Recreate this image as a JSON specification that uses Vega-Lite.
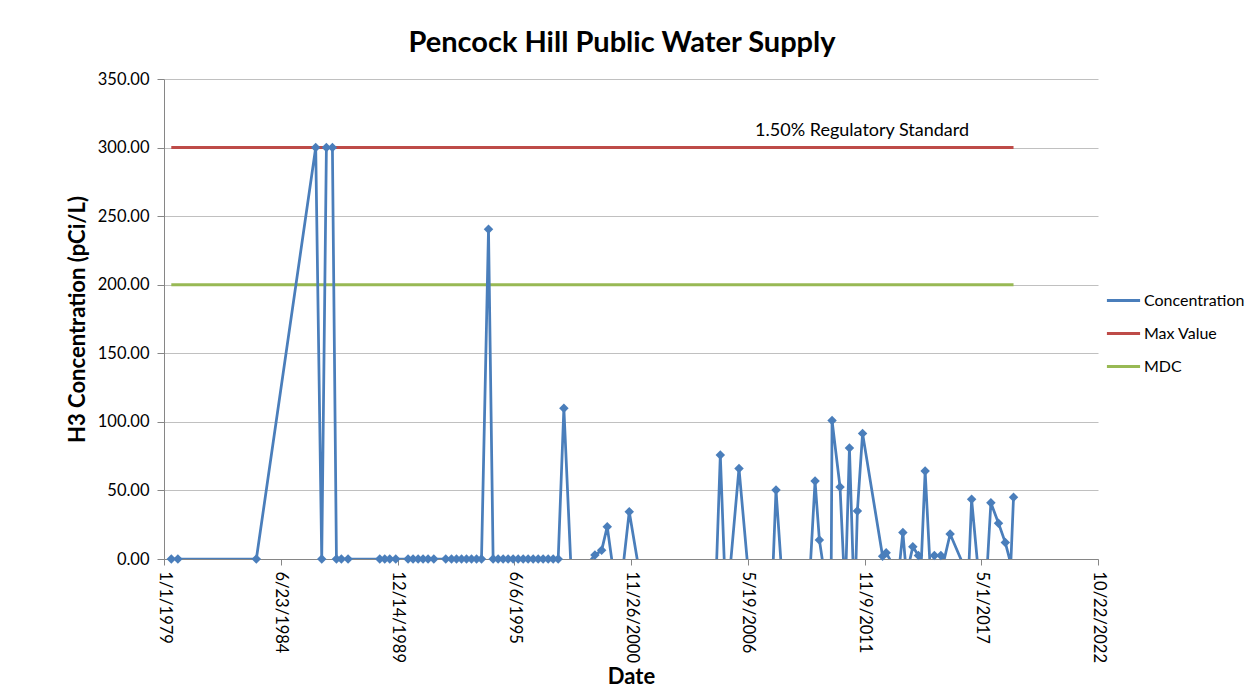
{
  "$schema": "https://vega.github.io/schema/vega-lite/v6.json",
  "width": 934,
  "height": 480,
  "autosize": {"type": "none"},
  "padding": {"left": 164, "top": 79, "right": 161, "bottom": 132},
  "background": "white",
  "config": {"view": {"stroke": null}, "font": "Lato"},
  "title": {"text": "Pencock Hill Public Water Supply", "font": "Lato", "fontSize": 29, "fontWeight": "bold", "color": "#000000", "anchor": "middle", "offset": 13, "dx": -9},
  "datasets": {
    "conc": [
      {"date": "1979-05-06", "value": 0},
      {"date": "1979-08-27", "value": 0},
      {"date": "1983-05-02", "value": 0},
      {"date": "1986-02-12", "value": 300},
      {"date": "1986-05-26", "value": 0},
      {"date": "1986-08-14", "value": 300},
      {"date": "1986-11-25", "value": 300},
      {"date": "1987-02-02", "value": 0},
      {"date": "1987-04-28", "value": 0},
      {"date": "1987-08-20", "value": 0},
      {"date": "1989-02-13", "value": 0},
      {"date": "1989-05-10", "value": 0},
      {"date": "1989-08-03", "value": 0},
      {"date": "1989-11-14", "value": 0},
      {"date": "1990-06-13", "value": 0},
      {"date": "1990-09-07", "value": 0},
      {"date": "1990-12-02", "value": 0},
      {"date": "1991-02-25", "value": 0},
      {"date": "1991-05-22", "value": 0},
      {"date": "1991-08-28", "value": 0},
      {"date": "1992-03-20", "value": 0},
      {"date": "1992-06-26", "value": 0},
      {"date": "1992-09-20", "value": 0},
      {"date": "1992-12-15", "value": 0},
      {"date": "1993-03-10", "value": 0},
      {"date": "1993-06-04", "value": 0},
      {"date": "1993-08-29", "value": 0},
      {"date": "1993-11-22", "value": 0},
      {"date": "1994-03-22", "value": 240.4},
      {"date": "1994-06-09", "value": 0},
      {"date": "1994-09-03", "value": 0},
      {"date": "1994-11-28", "value": 0},
      {"date": "1995-02-21", "value": 0},
      {"date": "1995-05-18", "value": 0},
      {"date": "1995-08-12", "value": 0},
      {"date": "1995-11-06", "value": 0},
      {"date": "1996-01-30", "value": 0},
      {"date": "1996-04-25", "value": 0},
      {"date": "1996-07-20", "value": 0},
      {"date": "1996-10-13", "value": 0},
      {"date": "1997-01-07", "value": 0},
      {"date": "1997-04-03", "value": 0},
      {"date": "1997-06-28", "value": 0},
      {"date": "1997-10-03", "value": 110},
      {"date": "1998-03-07", "value": -38},
      {"date": "1998-12-06", "value": -2.4},
      {"date": "1999-03-19", "value": 2.9},
      {"date": "1999-07-12", "value": 6.3},
      {"date": "1999-10-16", "value": 23.6},
      {"date": "2000-02-08", "value": -12},
      {"date": "2000-06-24", "value": -13},
      {"date": "2000-10-27", "value": 34.5},
      {"date": "2001-04-28", "value": -12},
      {"date": "2004-11-04", "value": -36},
      {"date": "2005-02-03", "value": 75.8},
      {"date": "2005-05-11", "value": -35},
      {"date": "2005-07-02", "value": -16},
      {"date": "2005-12-20", "value": 66},
      {"date": "2006-06-10", "value": -16},
      {"date": "2007-07-09", "value": -24},
      {"date": "2007-09-15", "value": 50.3},
      {"date": "2007-12-28", "value": -14},
      {"date": "2009-04-03", "value": -22},
      {"date": "2009-07-15", "value": 56.8},
      {"date": "2009-09-27", "value": 13.9},
      {"date": "2009-12-16", "value": -9},
      {"date": "2010-04-07", "value": -90},
      {"date": "2010-05-02", "value": 101},
      {"date": "2010-09-16", "value": 52.5},
      {"date": "2010-12-12", "value": -27},
      {"date": "2011-02-24", "value": 81},
      {"date": "2011-05-23", "value": -39},
      {"date": "2011-07-10", "value": 35},
      {"date": "2011-10-07", "value": 91.6},
      {"date": "2012-09-14", "value": 2},
      {"date": "2012-11-14", "value": 4.5},
      {"date": "2013-02-07", "value": -2},
      {"date": "2013-06-24", "value": -7},
      {"date": "2013-08-27", "value": 19.4},
      {"date": "2013-10-31", "value": -13},
      {"date": "2013-12-13", "value": -3},
      {"date": "2014-02-14", "value": 9},
      {"date": "2014-05-21", "value": 2.5},
      {"date": "2014-07-06", "value": -5},
      {"date": "2014-09-13", "value": 64.2},
      {"date": "2014-12-25", "value": -21},
      {"date": "2015-02-18", "value": 2.5},
      {"date": "2015-06-09", "value": 2.5},
      {"date": "2015-08-05", "value": -0.5},
      {"date": "2015-11-15", "value": 18.2},
      {"date": "2016-06-25", "value": -4},
      {"date": "2016-09-19", "value": -18},
      {"date": "2016-11-17", "value": 43.5},
      {"date": "2017-03-28", "value": -17},
      {"date": "2017-07-24", "value": -19},
      {"date": "2017-10-13", "value": 41},
      {"date": "2018-02-21", "value": 26},
      {"date": "2018-06-17", "value": 12},
      {"date": "2018-09-19", "value": -3.4},
      {"date": "2018-11-05", "value": 45}
    ],
    "refs": [
      {"date": "1979-05-06", "value": 300, "series": "Max Value"},
      {"date": "2018-11-05", "value": 300, "series": "Max Value"},
      {"date": "1979-05-06", "value": 200, "series": "MDC"},
      {"date": "2018-11-05", "value": 200, "series": "MDC"}
    ],
    "note": [
      {"date": "2011-09-29", "value": 312, "label": "1.50% Regulatory Standard"}
    ]
  },
  "encoding": {
    "x": {
      "field": "date",
      "type": "temporal",
      "scale": {"type": "utc", "domain": [{"year": 1979, "month": 1, "date": 1, "utc": true}, {"year": 2022, "month": 10, "date": 22, "utc": true}]},
      "axis": {
        "title": "Date",
        "values": [
          {"year": 1979, "month": 1, "date": 1, "utc": true},
          {"year": 1984, "month": 6, "date": 23, "utc": true},
          {"year": 1989, "month": 12, "date": 14, "utc": true},
          {"year": 1995, "month": 6, "date": 6, "utc": true},
          {"year": 2000, "month": 11, "date": 26, "utc": true},
          {"year": 2006, "month": 5, "date": 19, "utc": true},
          {"year": 2011, "month": 11, "date": 9, "utc": true},
          {"year": 2017, "month": 5, "date": 1, "utc": true},
          {"year": 2022, "month": 10, "date": 22, "utc": true}
        ],
        "format": "%-m/%-d/%Y",
        "labelAngle": 90,
        "labelAlign": "left",
        "labelBaseline": "middle",
        "labelFont": "Lato",
        "labelFontSize": 16.5,
        "labelColor": "#000000",
        "labelPadding": 6,
        "labelOverlap": false,
        "labelFlush": false,
        "grid": false,
        "domainColor": "#868686",
        "tickColor": "#868686",
        "tickSize": 6,
        "titleFont": "Lato",
        "titleFontSize": 22,
        "titleFontWeight": "bold",
        "titleColor": "#000000",
        "titlePadding": 4
      }
    },
    "y": {
      "field": "value",
      "type": "quantitative",
      "scale": {"domain": [0, 350], "nice": false, "zero": false},
      "axis": {
        "title": "H3 Concentration (pCi/L)",
        "values": [0, 50, 100, 150, 200, 250, 300, 350],
        "format": ".2f",
        "grid": true,
        "gridColor": "#C0C0C0",
        "gridWidth": 1,
        "domainColor": "#868686",
        "tickColor": "#868686",
        "tickSize": 7,
        "labelFont": "Lato",
        "labelFontSize": 16.5,
        "labelColor": "#000000",
        "labelPadding": 8,
        "titleFont": "Lato",
        "titleFontSize": 22,
        "titleFontWeight": "bold",
        "titleColor": "#000000",
        "titlePadding": 8
      }
    }
  },
  "layer": [
    {
      "data": {"name": "refs"},
      "mark": {"type": "line", "strokeWidth": 3},
      "encoding": {
        "color": {
          "field": "series",
          "type": "nominal",
          "scale": {"domain": ["Concentration", "Max Value", "MDC"], "range": ["#4A7EBB", "#BE4B48", "#98B954"]},
          "legend": {
            "title": null,
            "orient": "none",
            "legendX": 941,
            "legendY": 203,
            "symbolType": "stroke",
            "symbolStrokeWidth": 3,
            "symbolSize": 1100,
            "labelFont": "Lato",
            "labelFontSize": 16,
            "labelColor": "#000000",
            "rowPadding": 6,
            "labelOffset": 2
          }
        }
      }
    },
    {
      "data": {"name": "conc"},
      "mark": {"type": "line", "strokeWidth": 2.75, "clip": true},
      "encoding": {
        "color": {"datum": "Concentration", "type": "nominal"}
      }
    },
    {
      "data": {"name": "conc"},
      "transform": [{"filter": "datum.value >= 0"}],
      "mark": {"type": "point", "shape": "diamond", "filled": true, "size": 90, "color": "#4A7EBB", "opacity": 1}
    },
    {
      "data": {"name": "note"},
      "mark": {"type": "text", "font": "Lato", "fontSize": 18, "color": "#000000", "align": "center", "baseline": "middle"},
      "encoding": {"text": {"field": "label"}}
    }
  ]
}
